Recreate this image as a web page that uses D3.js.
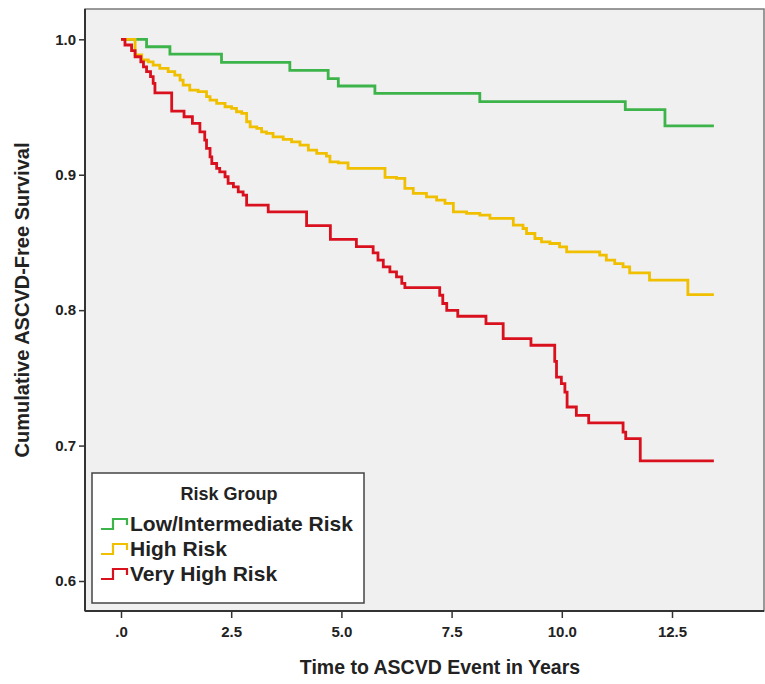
<!DOCTYPE html>
<html><head><meta charset="utf-8">
<script src="https://cdn.jsdelivr.net/npm/d3@7"></script>
<style>body{margin:0;background:#fff}</style>
</head><body>
<svg id="c" width="765" height="684"></svg>
<script>
const groups = ["Low/Intermediate Risk", "High Risk", "Very High Risk"];
const colors = ["#3cb44a", "#f0c000", "#d9101e"];

const lowTimes = [0, 0.58, 1.11, 2.28, 3.83, 4.70, 4.93, 5.76, 8.14, 11.44, 12.34];
const lowSurv  = [1.0, 0.9945, 0.989, 0.983, 0.977, 0.971, 0.9655, 0.960, 0.954, 0.948, 0.936];

const highTimes = [0, 0.32, 0.47, 0.62, 0.73, 0.88, 1.07, 1.22, 1.34, 1.41, 1.56, 1.75, 1.94, 2.02, 2.17, 2.36, 2.51, 2.62, 2.74, 2.85, 2.93, 3.08, 3.19, 3.30, 3.45, 3.68, 3.87, 4.06, 4.25, 4.44, 4.66, 4.74, 4.93, 5.15, 5.99, 6.25, 6.44, 6.63, 6.93, 7.16, 7.35, 7.54, 7.84, 8.14, 8.37, 8.90, 9.12, 9.20, 9.39, 9.54, 9.73, 9.95, 10.11, 10.86, 11.01, 11.20, 11.39, 11.54, 11.99, 12.86];
const highSurv  = [1.0, 0.9884, 0.9847, 0.9834, 0.9810, 0.9786, 0.9761, 0.9736, 0.9699, 0.9662, 0.9625, 0.9613, 0.9576, 0.9551, 0.9527, 0.9502, 0.9490, 0.9465, 0.9453, 0.9391, 0.9354, 0.9342, 0.9317, 0.9305, 0.9280, 0.9261, 0.9243, 0.9219, 0.9182, 0.9157, 0.9137, 0.9095, 0.9088, 0.9047, 0.8980, 0.8973, 0.8899, 0.8862, 0.8837, 0.8812, 0.8788, 0.8726, 0.8714, 0.8701, 0.8677, 0.8628, 0.8603, 0.8566, 0.8529, 0.8504, 0.8492, 0.8467, 0.8430, 0.8406, 0.8369, 0.8344, 0.8319, 0.8275, 0.8221, 0.8115];

const veryTimes = [0, 0.09, 0.24, 0.32, 0.45, 0.51, 0.58, 0.67, 0.73, 0.77, 1.15, 1.43, 1.62, 1.79, 1.90, 1.94, 2.02, 2.06, 2.17, 2.24, 2.36, 2.43, 2.55, 2.66, 2.77, 2.85, 3.34, 4.21, 4.75, 5.34, 5.72, 5.83, 5.95, 6.10, 6.25, 6.37, 6.44, 7.23, 7.30, 7.39, 7.64, 8.28, 8.67, 9.30, 9.84, 9.88, 9.99, 10.07, 10.12, 10.33, 10.61, 11.39, 11.45, 11.78];
const verySurv  = [1.0, 0.9958, 0.9916, 0.9871, 0.9834, 0.9797, 0.9761, 0.9724, 0.9675, 0.9605, 0.947, 0.9428, 0.9379, 0.9317, 0.9256, 0.9194, 0.9132, 0.9083, 0.9047, 0.9021, 0.8985, 0.8936, 0.8911, 0.8874, 0.8849, 0.8775, 0.8726, 0.8624, 0.8523, 0.8469, 0.8423, 0.8369, 0.8319, 0.8282, 0.8245, 0.8197, 0.8167, 0.8110, 0.8049, 0.7999, 0.7955, 0.7901, 0.7790, 0.7741, 0.7622, 0.7506, 0.7457, 0.7395, 0.7285, 0.7223, 0.7168, 0.7100, 0.7051, 0.6887];

const endTimes = [13.45, 13.45, 13.45];

const xTicks = [0, 2.5, 5, 7.5, 10, 12.5];
const xTickLabels = [".0", "2.5", "5.0", "7.5", "10.0", "12.5"];
const yTicks = [0.6, 0.7, 0.8, 0.9, 1.0];
const yTickLabels = ["0.6", "0.7", "0.8", "0.9", "1.0"];

const xTitle = "Time to ASCVD Event in Years";
const yTitle = "Cumulative ASCVD-Free Survival";
const legendTitle = "Risk Group";

const FONT = "'Liberation Sans', Arial, sans-serif";
const svg = d3.select("#c");

const plot = {left: 85, top: 9, right: 764, bottom: 611};
const x = d3.scaleLinear().domain([0, 12.5]).range([121, 672]);
const y = d3.scaleLinear().domain([0.6, 1.0]).range([581, 39.3]);

// plot background
svg.append("rect").attr("x", plot.left).attr("y", plot.top)
  .attr("width", plot.right - plot.left).attr("height", plot.bottom - plot.top)
  .attr("fill", "#f0f0f0").attr("stroke", "#7a7a7a").attr("stroke-width", 1.5);

// axes
const yAxis = d3.axisLeft(y).tickValues(yTicks).tickSize(6).tickPadding(3)
  .tickFormat((d, i) => yTickLabels[i]);
const gy = svg.append("g").attr("transform", `translate(${plot.left},0)`).call(yAxis);
gy.select(".domain").attr("d", `M0,${plot.top}V${plot.bottom}`).attr("stroke", "#333").attr("stroke-width", 2);
gy.selectAll(".tick line").attr("stroke", "#333").attr("stroke-width", 1.5);
gy.selectAll(".tick text").attr("font-family", FONT).attr("font-weight", "bold")
  .attr("font-size", 15).attr("fill", "#222");

const xAxis = d3.axisBottom(x).tickValues(xTicks).tickSize(7).tickPadding(8)
  .tickFormat((d, i) => xTickLabels[i]);
const gx = svg.append("g").attr("transform", `translate(0,${plot.bottom})`).call(xAxis);
gx.select(".domain").attr("d", `M${plot.left},0H${plot.right}`).attr("stroke", "#333").attr("stroke-width", 2);
gx.selectAll(".tick line").attr("stroke", "#333").attr("stroke-width", 1.5);
gx.selectAll(".tick text").attr("font-family", FONT).attr("font-weight", "bold")
  .attr("font-size", 15).attr("fill", "#222");

// titles
svg.append("text").attr("x", 440).attr("y", 674).attr("text-anchor", "middle")
  .attr("font-family", FONT).attr("font-weight", "bold").attr("font-size", 19.5).attr("fill", "#222")
  .text(xTitle);
svg.append("text").attr("transform", "translate(29,300) rotate(-90)").attr("text-anchor", "middle")
  .attr("font-family", FONT).attr("font-weight", "bold").attr("font-size", 20).attr("fill", "#222")
  .text(yTitle);

// curves
const series = [
  {times: lowTimes, surv: lowSurv},
  {times: highTimes, surv: highSurv},
  {times: veryTimes, surv: verySurv}
];
const line = d3.line().x(d => x(d[0])).y(d => y(d[1])).curve(d3.curveStepAfter);
series.forEach((s, i) => {
  const pts = s.times.map((t, j) => [t, s.surv[j]]);
  pts.push([endTimes[i], s.surv[s.surv.length - 1]]);
  svg.append("path").datum(pts).attr("d", line)
    .attr("fill", "none").attr("stroke", colors[i]).attr("stroke-width", 2.8)
    .attr("stroke-linejoin", "miter");
});

// legend
const lg = svg.append("g");
lg.append("rect").attr("x", 92).attr("y", 473).attr("width", 272).attr("height", 130)
  .attr("fill", "#fff").attr("stroke", "#444").attr("stroke-width", 1.5);
lg.append("text").attr("x", 229).attr("y", 500).attr("text-anchor", "middle")
  .attr("font-family", FONT).attr("font-weight", "bold").attr("font-size", 18).attr("fill", "#222")
  .text(legendTitle);
groups.forEach((g, i) => {
  const cy = 524 + i * 25;
  lg.append("path").attr("d", `M101,${cy + 5}H113V${cy - 5}H127V${cy + 1}`)
    .attr("fill", "none").attr("stroke", colors[i]).attr("stroke-width", 2.2);
  lg.append("text").attr("x", 130).attr("y", cy + 7)
    .attr("font-family", FONT).attr("font-weight", "bold").attr("font-size", 21).attr("fill", "#222")
    .text(g);
});
</script>
</body></html>
